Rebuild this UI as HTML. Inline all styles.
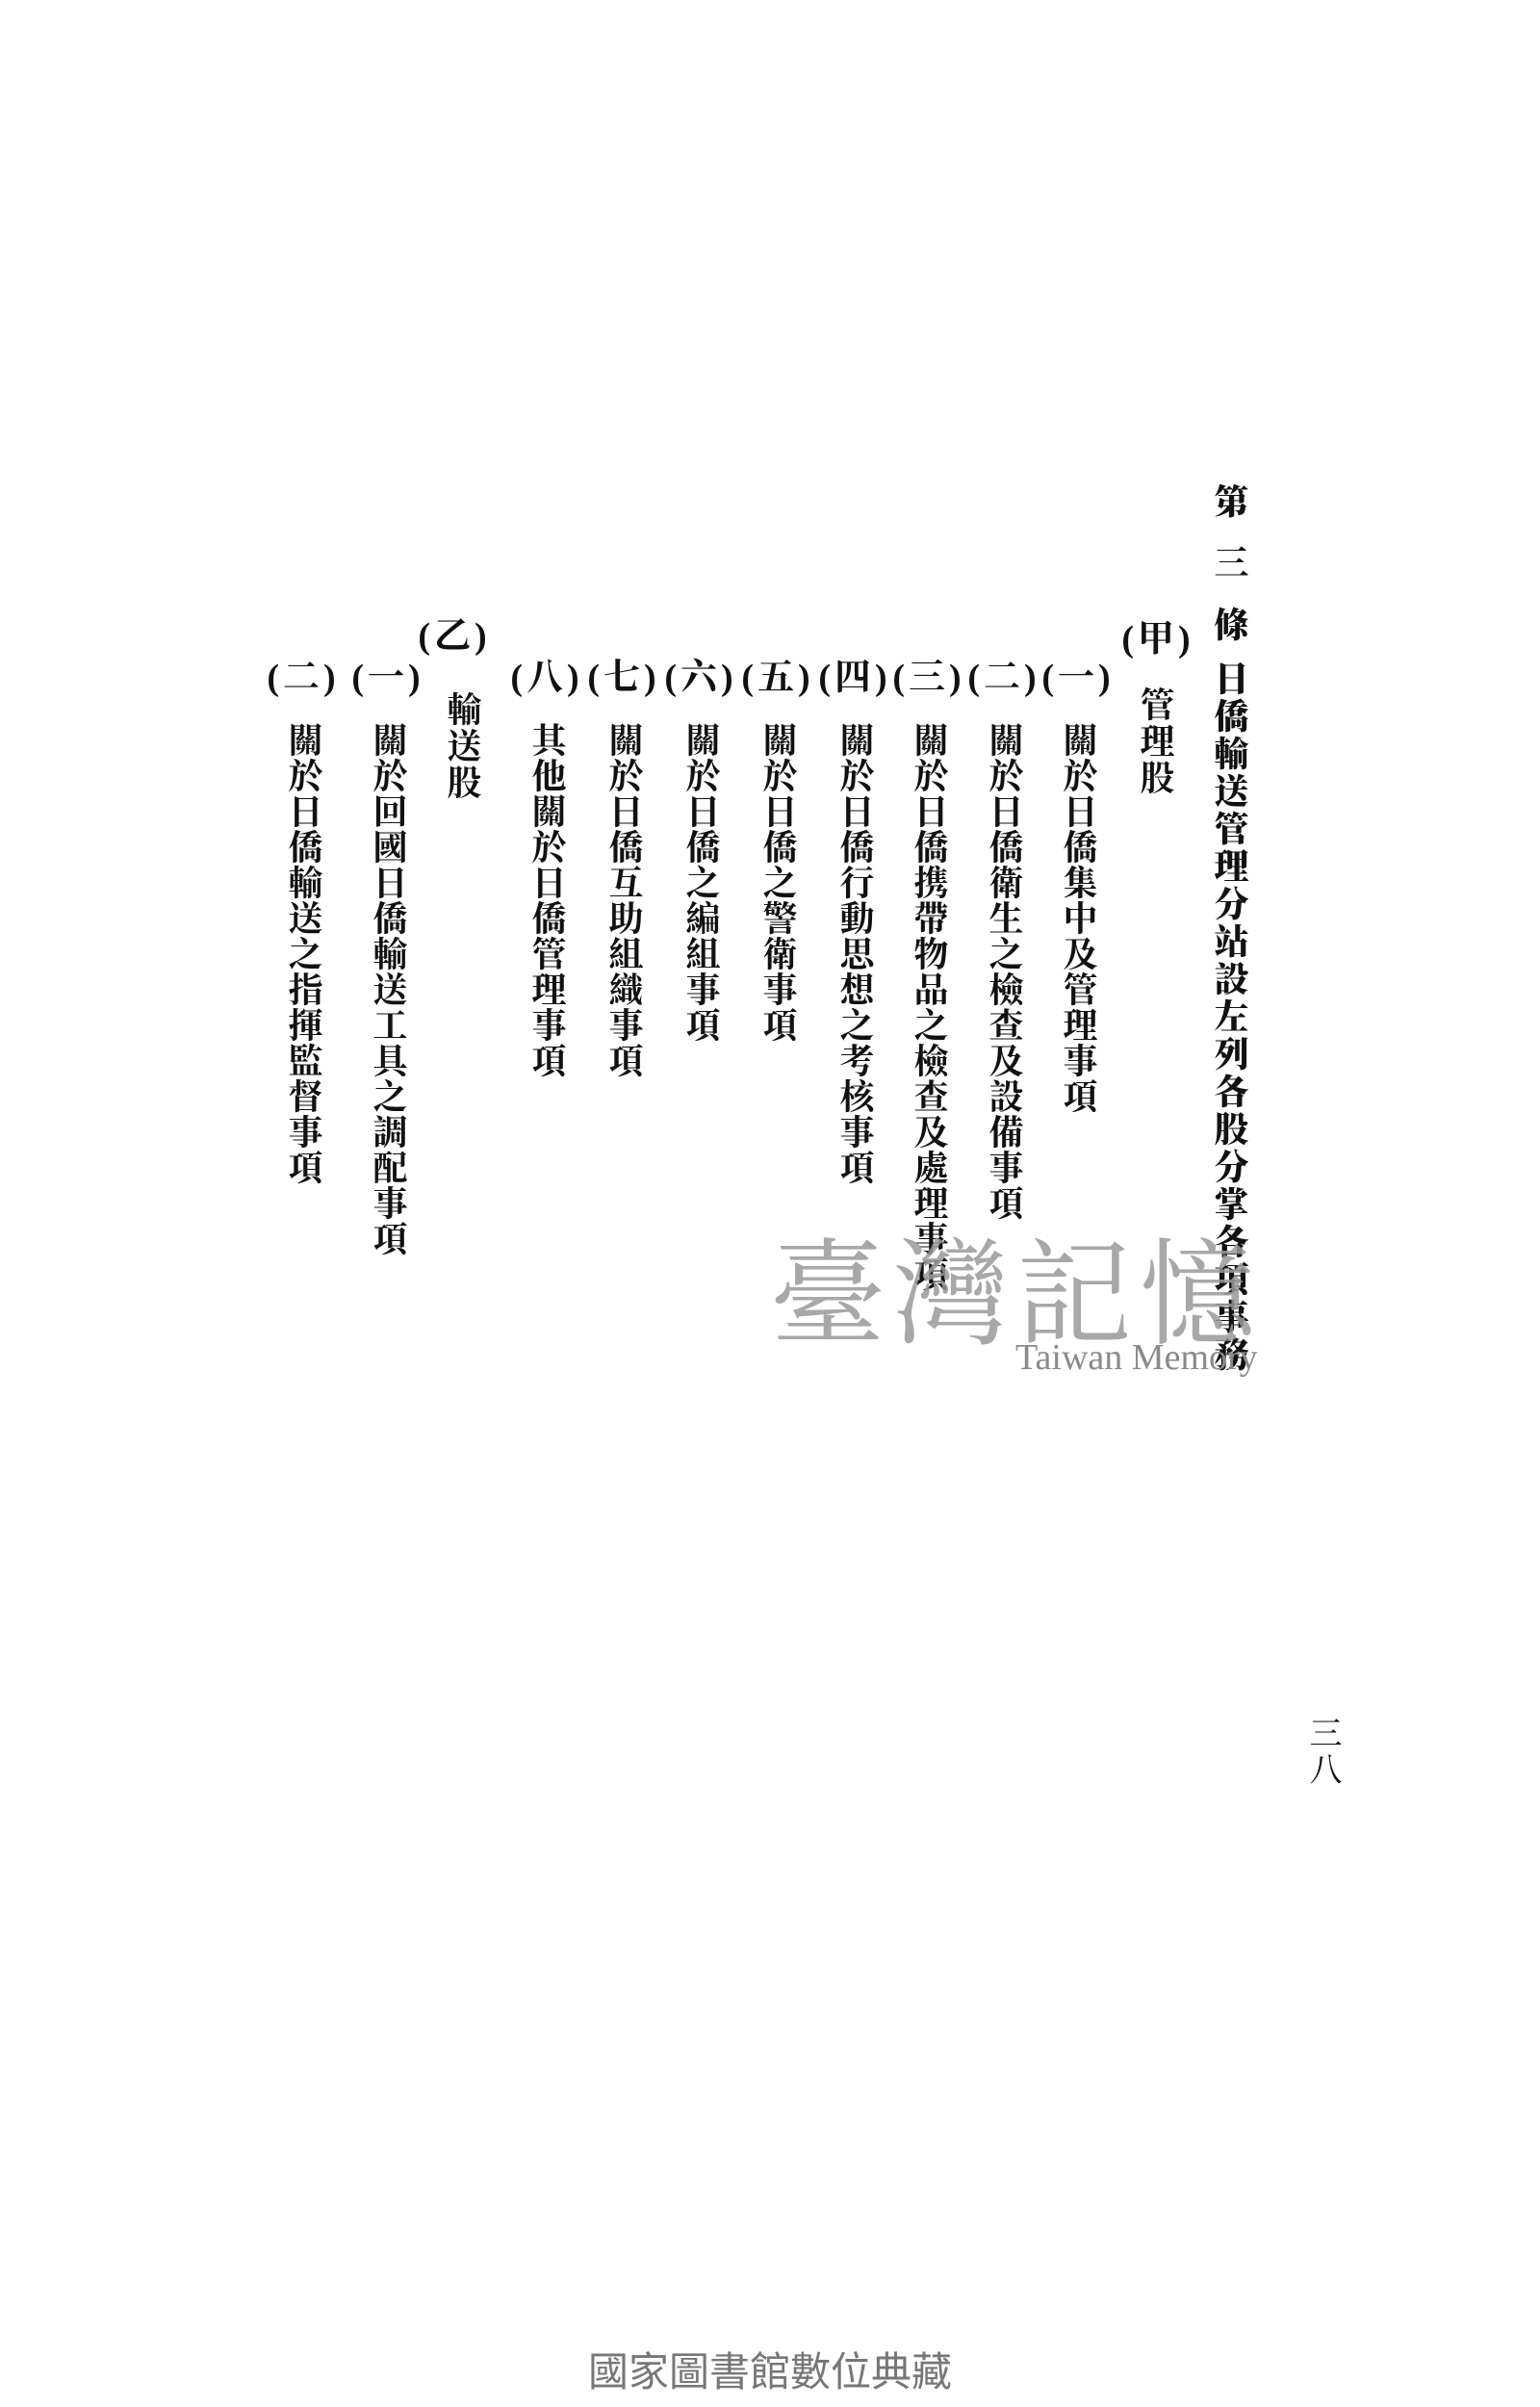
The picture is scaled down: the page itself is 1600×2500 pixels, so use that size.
<!DOCTYPE html>
<html><head><meta charset="utf-8"><style>
html,body{margin:0;padding:0;background:#fff;}
body{width:1600px;height:2500px;position:relative;overflow:hidden;font-family:"Liberation Serif","Noto Serif CJK SC","Noto Sans CJK TC",serif;color:#111;}
.v{position:absolute;writing-mode:vertical-rl;font-size:36px;line-height:36px;letter-spacing:1px;white-space:nowrap;font-weight:bold;}
.p{position:absolute;font-size:38px;line-height:40px;white-space:nowrap;transform:translate(-50%,-50%);font-weight:bold;letter-spacing:4px;}
</style></head><body>
<div class="v" style="left:1259px;top:502px;font-size:36px;letter-spacing:28px;font-weight:900;">第三條</div>
<div class="v" style="left:1259px;top:686px;letter-spacing:3px;font-weight:900;">日僑輸送管理分站設左列各股分掌各項事務</div>

<div class="p" style="left:1203px;top:664px;">(甲)</div>
<div class="v" style="left:1182px;top:713px;letter-spacing:2px;">管理股</div>

<div class="p" style="left:1120px;top:704px;">(一)</div>
<div class="v" style="left:1102px;top:750px;">關於日僑集中及管理事項</div>
<div class="p" style="left:1043px;top:704px;">(二)</div>
<div class="v" style="left:1025px;top:750px;">關於日僑衛生之檢查及設備事項</div>
<div class="p" style="left:965px;top:704px;">(三)</div>
<div class="v" style="left:947px;top:750px;">關於日僑携帶物品之檢查及處理事項</div>
<div class="p" style="left:888px;top:704px;">(四)</div>
<div class="v" style="left:870px;top:750px;">關於日僑行動思想之考核事項</div>
<div class="p" style="left:808px;top:704px;">(五)</div>
<div class="v" style="left:790px;top:750px;">關於日僑之警衛事項</div>
<div class="p" style="left:728px;top:704px;">(六)</div>
<div class="v" style="left:710px;top:750px;">關於日僑之編組事項</div>
<div class="p" style="left:648px;top:704px;">(七)</div>
<div class="v" style="left:630px;top:750px;">關於日僑互助組織事項</div>
<div class="p" style="left:568px;top:704px;">(八)</div>
<div class="v" style="left:550px;top:750px;">其他關於日僑管理事項</div>

<div class="p" style="left:472px;top:661px;">(乙)</div>
<div class="v" style="left:462px;top:718px;letter-spacing:2px;">輸送股</div>
<div class="p" style="left:403px;top:704px;">(一)</div>
<div class="v" style="left:385px;top:750px;">關於回國日僑輸送工具之調配事項</div>
<div class="p" style="left:315px;top:704px;">(二)</div>
<div class="v" style="left:297px;top:750px;">關於日僑輸送之指揮監督事項</div>

<div style="position:absolute;left:800px;top:1270px;font-size:120px;line-height:130px;color:#9a9a9a;letter-spacing:8px;font-family:'Noto Serif CJK SC',serif;opacity:0.85;">臺灣記憶</div>
<div style="position:absolute;left:1055px;top:1390px;font-size:38px;line-height:40px;color:#8a8a8a;font-family:'Liberation Serif',serif;">Taiwan Memory</div>

<div class="v" style="left:1355px;top:1782px;font-size:34px;letter-spacing:4px;font-weight:normal;">三八</div>

<div style="position:absolute;left:0;width:1600px;top:2440px;text-align:center;font-size:42px;line-height:48px;color:#777;font-family:'Liberation Sans','Noto Sans CJK TC',sans-serif;">國家圖書館數位典藏</div>
</body></html>
